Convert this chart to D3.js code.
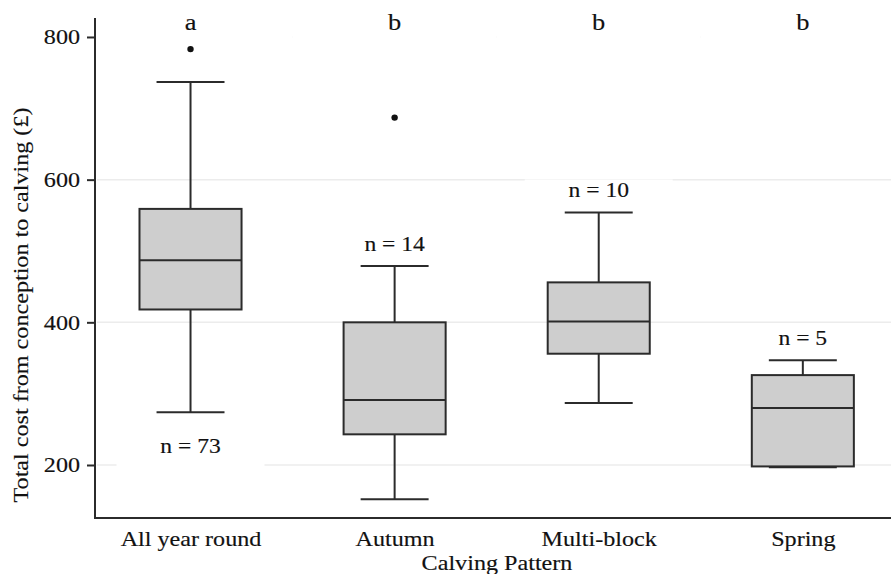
<!DOCTYPE html>
<html>
<head>
<meta charset="utf-8">
<script src="https://cdn.jsdelivr.net/npm/d3@7"></script>
<style>
  html, body { margin: 0; padding: 0; background: #fff; }
  svg { display: block; font-family: "Liberation Serif", "DejaVu Serif", serif; }
  svg text { stroke: #111; stroke-width: 0.15px; }
</style>
</head>
<body>
<div id="chart"></div>
<script>
// Box plot — total cost from conception to calving by calving pattern.

const categories   = ["All year round", "Autumn", "Multi-block", "Spring"];
const lowerWhisker = [274, 152, 287, 197];
const q1           = [418, 243, 356, 198];
const median       = [487, 291, 401, 280];
const q3           = [559, 400, 456, 326];
const upperWhisker = [737, 479, 554, 347];
const outliers     = [[783], [687], [], []];
const nObs         = [73, 14, 10, 5];
const groupLetters = ["a", "b", "b", "b"];
const yTicks       = [200, 400, 600, 800];

const W = 891, H = 574;
const SX = 1.15;          // the source font is set a bit wide
const ink = "#2b2b2b";

const groups = categories.map((c, i) => ({
  cat: c, lo: lowerWhisker[i], q1: q1[i], med: median[i], q3: q3[i], hi: upperWhisker[i],
  out: outliers[i], n: nObs[i], letter: groupLetters[i], i
}));

const svg = d3.select("#chart").append("svg")
  .attr("width", W).attr("height", H).attr("viewBox", `0 0 ${W} ${H}`);

const x = d3.scalePoint().domain(categories).range([95, 891]).padding(0.45).align(0.52);
const y = d3.scaleLinear().domain([125.7, 825.2]).range([518, 19]);

// faint gridlines
svg.append("g").selectAll("line").data(yTicks).join("line")
  .attr("x1", 97).attr("x2", W)
  .attr("y1", d => y(d)).attr("y2", d => y(d))
  .attr("stroke", "#ececec").attr("stroke-width", 1.5);

function label(g, px, py, s, size) {
  return g.append("text")
    .attr("transform", `translate(${px},${py}) scale(${SX},1)`)
    .attr("text-anchor", "middle")
    .attr("font-size", size).attr("fill", "#111")
    .text(s);
}

// white patches behind the annotations (they hide the gridlines)
const gLab = svg.append("g");
function patch(px, py, w, h) {
  gLab.append("rect").attr("x", px - w / 2).attr("y", py).attr("width", w).attr("height", h).attr("fill", "#fff");
}

const bw = x.step() * 0.5, cw = x.step() * 0.333;
const gBox = svg.append("g");

groups.forEach(d => {
  const cx = x(d.cat);
  const g = gBox.append("g");

  // n label: below the lower whisker for the first group, above the top whisker otherwise
  const ny = d.i === 0 ? y(d.lo) + 41 : y(d.hi) - 15;
  patch(cx, ny - 18, 148, d.i === 0 ? 32 : 26);
  label(gLab, cx, ny, `n = ${d.n}`, 20.5);

  // letters at top
  patch(cx, 14, x.step(), 30);
  label(gLab, cx, 30, d.letter, 23);

  // whiskers
  g.append("line").attr("x1", cx).attr("x2", cx).attr("y1", y(d.hi)).attr("y2", y(d.q3))
    .attr("stroke", ink).attr("stroke-width", 2);
  g.append("line").attr("x1", cx).attr("x2", cx).attr("y1", y(d.q1)).attr("y2", y(d.lo))
    .attr("stroke", ink).attr("stroke-width", 2);
  [d.hi, d.lo].forEach(v => {
    g.append("line").attr("x1", cx - cw / 2).attr("x2", cx + cw / 2).attr("y1", y(v)).attr("y2", y(v))
      .attr("stroke", ink).attr("stroke-width", 2);
  });

  // box
  g.append("rect")
    .attr("x", cx - bw / 2).attr("width", bw)
    .attr("y", y(d.q3)).attr("height", y(d.q1) - y(d.q3))
    .attr("fill", "#cecece").attr("stroke", ink).attr("stroke-width", 2);
  g.append("line").attr("x1", cx - bw / 2).attr("x2", cx + bw / 2).attr("y1", y(d.med)).attr("y2", y(d.med))
    .attr("stroke", ink).attr("stroke-width", 2);

  // outliers
  g.selectAll("circle").data(d.out).join("circle")
    .attr("cx", cx).attr("cy", v => y(v)).attr("r", 3.2).attr("fill", "#111");
});

// axes
const gY = svg.append("g").attr("transform", "translate(95,0)")
  .call(d3.axisLeft(y).tickValues(yTicks).tickSize(8).tickSizeOuter(0).tickPadding(5));
const gX = svg.append("g").attr("transform", "translate(0,518)")
  .call(d3.axisBottom(x).tickSize(0).tickSizeOuter(0).tickPadding(0));

svg.selectAll(".domain").attr("stroke", ink).attr("stroke-width", 2);
gY.select(".domain").attr("d", "M0,18V519");
gX.select(".domain").attr("d", "M94,0H891");
gY.selectAll(".tick line").attr("stroke", ink).attr("stroke-width", 2);
gY.selectAll(".tick text")
  .attr("font-family", "Liberation Serif").attr("font-size", 21).attr("fill", "#111")
  .attr("transform", `scale(${SX},1)`);
gX.selectAll(".tick text")
  .attr("font-family", "Liberation Serif").attr("font-size", 21).attr("fill", "#111")
  .attr("dy", 0).attr("y", 28)
  .attr("transform", `scale(${SX},1)`);

// axis titles
label(svg, 497, 570, "Calving Pattern", 21);
svg.append("text")
  .attr("transform", `translate(28,305) rotate(-90) scale(${SX},1)`)
  .attr("text-anchor", "middle").attr("font-size", 21).attr("fill", "#111")
  .text("Total cost from conception to calving (£)");
</script>
</body>
</html>
